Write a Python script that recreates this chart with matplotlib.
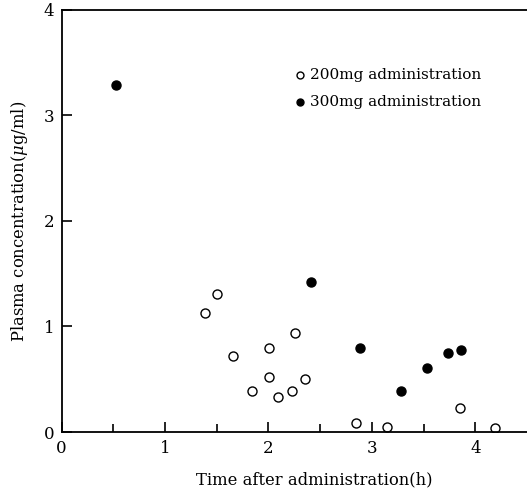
import numpy as np
import matplotlib.pyplot as plt

plt.rcParams['font.family'] = ['DejaVu Serif']
plt.rcParams['mathtext.fontset'] = 'dejavuserif'

# 200mg administration (open circles)
t_200 = [1.39, 1.50, 1.66, 1.84, 2.01, 2.01, 2.09, 2.23, 2.26, 2.35, 2.85, 3.15, 3.85, 4.19]
c_200 = [1.13, 1.31, 0.72, 0.39, 0.80, 0.52, 0.33, 0.39, 0.94, 0.50, 0.09, 0.05, 0.23, 0.04]

# 300mg administration (filled circles)
t_300 = [0.53, 2.41, 2.89, 3.28, 3.53, 3.74, 3.86]
c_300 = [3.29, 1.42, 0.80, 0.39, 0.61, 0.75, 0.78]

fig = plt.figure(figsize=(5.27, 4.94), dpi=100)
ax = fig.add_axes([0.1167, 0.1255, 0.8833, 0.8543])

ax.plot(t_200, c_200, 'o', mfc='white', mec='black', mew=1.0, ms=6.5, ls='none')
ax.plot(t_300, c_300, 'o', color='black', ms=6.5, ls='none')

ax.set_xlim(0, 4.5)
ax.set_ylim(0, 4)
ax.set_xticks([0, 1, 2, 3, 4])
ax.set_xticks([0.5, 1.5, 2.5, 3.5], minor=True)
ax.set_yticks([0, 1, 2, 3, 4])
ax.tick_params(axis='both', which='both', direction='in', labelsize=12, width=1.2)
ax.tick_params(axis='both', which='major', length=7)
ax.tick_params(axis='x', which='minor', length=6)
ax.tick_params(axis='x', pad=6)
ax.tick_params(axis='y', pad=5)
ax.spines['right'].set_visible(False)
for s in ['left', 'bottom', 'top']:
    ax.spines[s].set_linewidth(1.3)

ax.set_xlabel('Time after administration(h)', fontsize=11.8, labelpad=10, x=0.542)
ax.set_ylabel(r'Plasma concentration($\mu$g/ml)', fontsize=11.8, labelpad=10)

# legend drawn as text + markers
ax.plot([2.31], [3.38], 'o', mfc='white', mec='black', mew=1.0, ms=5)
ax.text(2.40, 3.38, '200mg administration', fontsize=11, va='center')
ax.plot([2.31], [3.13], 'o', color='black', ms=5)
ax.text(2.40, 3.13, '300mg administration', fontsize=11, va='center')

fig.savefig('out.png', dpi=100)
